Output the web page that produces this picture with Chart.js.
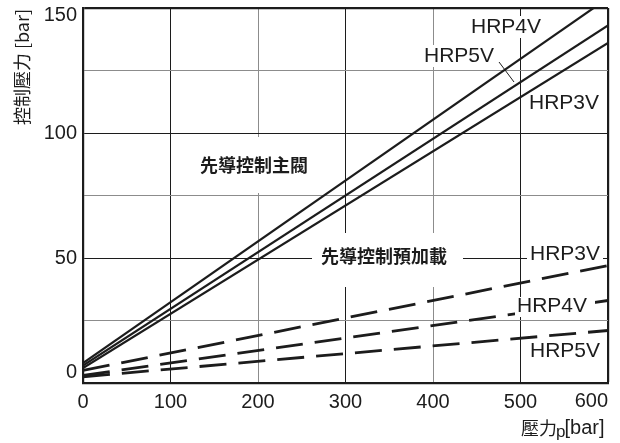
<!DOCTYPE html>
<html>
<head>
<meta charset="utf-8">
<script src="https://cdn.jsdelivr.net/npm/chart.js@4"></script>
<style>
  body { margin: 0; background: #fff; }
  canvas { display: block; }
</style>
</head>
<body>
<canvas id="pressureChart" width="620" height="443"></canvas>
<script>
// Control pressure vs. pressure p
const pressure = [0, 600];
const hrp4vMain = [8, 154];
const hrp5vMain = [7, 143];
const hrp3vMain = [6, 136];
const hrp3vPre = [5, 47];
const hrp4vPre = [3, 33];
const hrp5vPre = [2.5, 21];
const xTicks = [0, 100, 200, 300, 400, 500, 600];
const yTicks = [0, 50, 100, 150];

const ink = '#1c1c1c';
const gray = '#8c8c8c';
const sans = '"Liberation Sans", Arial, sans-serif';

function pts(values) {
    return pressure.map((x, i) => ({ x: x, y: values[i] }));
}

function solid(label, values) {
    return { label: label, data: pts(values), borderColor: ink, borderWidth: 2.2, pointRadius: 0, showLine: true, fill: false };
}

function dashed(label, values) {
    return { label: label, data: pts(values), borderColor: ink, borderWidth: 2.8, borderDash: [27, 12], pointRadius: 0, showLine: true, fill: false };
}

// text labels inside the plot: text, centre x, centre y, white box, bold CJK, box after lines
const notes = [
    { text: 'HRP4V', x: 506, y: 27, box: [469, 16, 72, 22] },
    { text: 'HRP5V', x: 459, y: 56, box: [422, 45, 74, 22] },
    { text: 'HRP3V', x: 564, y: 103, box: [526, 92, 76, 22] },
    { text: '先導控制主閥', x: 254, y: 165, cjk: true, box: [185, 137, 135, 56] },
    { text: '先導控制預加載', x: 384, y: 256, cjk: true, box: [312, 233, 151, 54] },
    { text: 'HRP3V', x: 565, y: 254, box: [527, 243, 76, 22] },
    { text: 'HRP4V', x: 552, y: 306, box: [515, 297, 80, 20], over: true },
    { text: 'HRP5V', x: 565, y: 351, box: [527, 340, 76, 22] }
];

const yFirst = yTicks[0];
const yLast = yTicks[yTicks.length - 1];
const xLast = xTicks[xTicks.length - 1];

const notesPlugin = {
    id: 'notes',
    beforeDatasetsDraw(chart) {
        const c = chart.ctx;
        c.save();
        c.fillStyle = '#fff';
        notes.filter(n => !n.over).forEach(n => c.fillRect(n.box[0], n.box[1], n.box[2], n.box[3]));
        c.restore();
    },
    afterDatasetsDraw(chart) {
        const c = chart.ctx;
        c.save();
        c.fillStyle = '#fff';
        notes.filter(n => n.over).forEach(n => c.fillRect(n.box[0], n.box[1], n.box[2], n.box[3]));
        c.fillStyle = ink;
        c.textAlign = 'center';
        c.textBaseline = 'middle';
        notes.forEach(n => {
            c.font = n.cjk ? 'bold 18px "Noto Sans CJK TC"' : '21px ' + sans;
            c.fillText(n.text, n.x, n.y);
        });
        // leader from HRP5V to its line
        c.strokeStyle = ink;
        c.lineWidth = 1;
        c.beginPath();
        c.moveTo(499, 62);
        c.lineTo(514, 82);
        c.stroke();

        // end tick labels are pulled inside the canvas
        const xs = chart.scales.x;
        const ys = chart.scales.y;
        c.font = '20px ' + sans;
        c.textAlign = 'right';
        c.textBaseline = 'top';
        c.fillText(String(xLast), xs.getPixelForValue(xLast), xs.top + 8);
        c.textBaseline = 'middle';
        c.fillText(String(yLast), ys.right - 6, ys.getPixelForValue(yLast) + 7);
        c.fillText(String(yFirst), ys.right - 6, ys.getPixelForValue(yFirst) - 11);

        // axis titles
        c.textAlign = 'center';
        c.save();
        c.translate(22, 67);
        c.rotate(-Math.PI / 2);
        c.font = '18px "Noto Sans CJK TC"';
        c.fillText('控制壓力 [bar]', 0, 0);
        c.restore();

        c.textAlign = 'left';
        c.font = '18px "Noto Sans CJK TC"';
        c.fillText('壓力', 521, 428);
        const w = c.measureText('壓力').width;
        c.font = '17px ' + sans;
        c.fillText('p', 521 + w - 1, 432);
        const w2 = c.measureText('p').width;
        c.font = '20px ' + sans;
        c.fillText('[bar]', 521 + w + w2 - 2, 428);
        c.restore();
    }
};

new Chart(document.getElementById('pressureChart'), {
    type: 'scatter',
    data: {
        datasets: [
            solid('HRP4V', hrp4vMain),
            solid('HRP5V', hrp5vMain),
            solid('HRP3V', hrp3vMain),
            dashed('HRP3V', hrp3vPre),
            dashed('HRP4V', hrp4vPre),
            dashed('HRP5V', hrp5vPre)
        ]
    },
    options: {
        responsive: false,
        animation: false,
        layout: { padding: { top: 8, right: 12, left: 0, bottom: 0 } },
        plugins: {
            legend: { display: false },
            tooltip: { enabled: false }
        },
        scales: {
            x: {
                type: 'linear',
                min: 0,
                max: 600,
                afterBuildTicks: scale => { scale.ticks = xTicks.map(v => ({ value: v })); },
                afterFit: scale => { scale.height = 60; scale.paddingLeft = 0; scale.paddingRight = 0; },
                ticks: {
                    color: ink,
                    padding: 7,
                    maxRotation: 0,
                    autoSkip: false,
                    callback: v => v === xLast ? '' : v,
                    font: { size: 20, family: sans }
                },
                grid: {
                    drawTicks: false,
                    color: ctx => (ctx.tick && ctx.tick.value % 200 === 0 && ctx.tick.value !== 0 && ctx.tick.value !== 600) ? gray : ink,
                    lineWidth: ctx => (ctx.tick && ctx.tick.value === 600) ? 2.2 : 1
                },
                border: { color: ink, width: 2.2 }
            },
            y: {
                min: 0,
                max: 150,
                afterBuildTicks: scale => {
                    const all = [];
                    for (let i = 0; i < yTicks.length; i++) {
                        all.push({ value: yTicks[i] });
                        if (i < yTicks.length - 1) all.push({ value: yTicks[i] + 25 });
                    }
                    scale.ticks = all;
                },
                afterFit: scale => { scale.width = 83; scale.paddingTop = 0; scale.paddingBottom = 0; },
                ticks: {
                    color: ink,
                    padding: 6,
                    autoSkip: false,
                    callback: v => (yTicks.includes(v) && v !== yFirst && v !== yLast) ? v : '',
                    font: { size: 20, family: sans }
                },
                grid: {
                    drawTicks: false,
                    color: ctx => (ctx.tick && yTicks.includes(ctx.tick.value)) ? ink : gray,
                    lineWidth: ctx => (ctx.tick && ctx.tick.value === 150) ? 2.2 : 1
                },
                border: { color: ink, width: 2.2 }
            }
        }
    },
    plugins: [notesPlugin]
});
</script>
</body>
</html>
